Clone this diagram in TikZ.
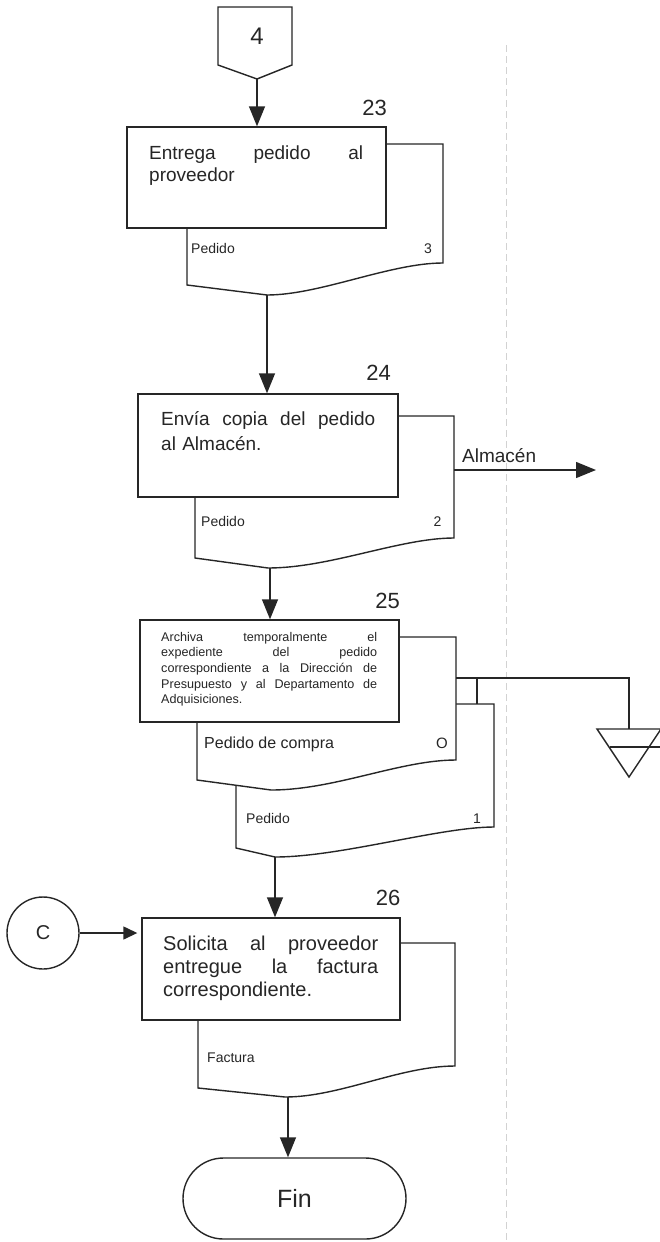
\documentclass[tikz,border=0pt]{standalone}
\usepackage{fontspec}
\setmainfont{Liberation Sans}
\usetikzlibrary{arrows.meta,shapes.misc}
\newcommand\myfs[2]{\fontsize{#1}{#2}\selectfont}
\newcommand\jl[2]{\leavevmode\hbox to #1{\spaceskip=0.28em plus 1fil\relax #2}}
\definecolor{ln}{HTML}{262626}
\begin{document}
\begin{tikzpicture}[x=1pt,y=-1pt,
  lnst/.style={draw=ln, line width=1.4pt},
  box/.style={lnst, fill=white, rectangle, inner sep=0pt},
  doc/.style={lnst, fill=white, line join=miter},
  arr/.style={lnst, -{Triangle[length=20pt,width=16pt]}},
  txt/.style={inner sep=0pt, align=left, text=ln, anchor=base west},
  lbl/.style={inner sep=0pt, font=\myfs{14}{17}, text=ln, anchor=base west},
  small/.style={inner sep=0pt, font=\myfs{14}{17}, text=ln, anchor=base},
  num/.style={inner sep=0pt, font=\myfs{22}{26}, anchor=base east, text=ln},
  sep/.style={draw=gray!35, line width=0.7pt, dash pattern=on 7pt off 4pt}]
\useasboundingbox (0,0) rectangle (659,1242);

% column separator
\draw[sep] (506,45) -- (506,1242);

% off-page connector 4
\draw[lnst, fill=white, line join=miter] (218,7) -- (292,7) -- (292,65) -- (257,79) -- (218,65) -- cycle;
\node[inner sep=0pt, font=\myfs{24}{28}, text=ln, anchor=base] (c4) at (257,44) {4};
\coordinate (c4tip) at (257,79);

% ---------- step 23
\draw[doc] (370,144) -- (443,144) -- (443,263) .. controls (390,263) and (320,295) .. (267,295) -- (187,285) -- (187,215) -- cycle;
\coordinate (m23) at (267,295);
\node[box, minimum width=259pt, minimum height=101pt] (b23) at (256.5,177.5) {};
\node[num] (n23) at (387,115) {23};
\node[txt, text width=214pt, font=\myfs{19}{22}] (t23) at (149,159) {\jl{214pt}{Entrega pedido al}\\proveedor};
\node[lbl] (p23) at (191,253) {Pedido};
\node[small] (k23) at (428,253) {3};
\draw[arr] (c4tip) -- (c4tip |- b23.north);

% ---------- step 24
\draw[doc] (380,416) -- (454,416) -- (454,538) .. controls (400,538) and (330,568) .. (268,568) -- (195,558) -- (195,480) -- cycle;
\coordinate (m24) at (270,568);
\node[box, minimum width=260pt, minimum height=103pt] (b24) at (268,445.5) {};
\node[num] (n24) at (391,380) {24};
\node[txt, text width=214pt, font=\myfs{19}{25.5}] (t24) at (161,425) {\jl{214pt}{Envía copia del pedido}\\al Almacén.};
\node[lbl] (p24) at (201,526) {Pedido};
\node[small] (k24) at (437.5,526) {2};
\draw[arr] (m23) -- (m23 |- b24.north);
\coordinate (d24r) at (454,470);
\coordinate (alm) at (596,470);
\draw[arr] (d24r) -- (alm);
\node[inner sep=0pt, font=\myfs{19}{22}, text=ln, anchor=base west] (lalm) at (462,462) {Almacén};

% ---------- step 25
\draw[doc] (300,704) -- (494,704) -- (494,827) .. controls (440,827) and (340,857) .. (275,857) -- (236,848) -- (236,740) -- cycle;
\coordinate (m25) at (275,857);
\draw[doc] (380,637) -- (456,637) -- (456,760) .. controls (400,760) and (335,790) .. (271,790) -- (197,780) -- (197,710) -- cycle;
\node[box, minimum width=259pt, minimum height=102pt] (b25) at (269.5,671) {};
\node[num] (n25) at (400,608) {25};
\node[txt, text width=216pt, font=\myfs{12.6}{15.7}] (t25) at (161,641) {\jl{216pt}{Archiva temporalmente el}\\\jl{216pt}{expediente del pedido}\\\jl{216pt}{correspondiente a la Dirección de}\\\jl{216pt}{Presupuesto y al Departamento de}\\Adquisiciones.};
\node[lbl, font=\myfs{16}{19}] (p25a) at (204,748) {Pedido de compra};
\node[small, font=\myfs{15}{18}] (k25a) at (442,748) {O};
\node[lbl] (p25b) at (246,823) {Pedido};
\node[small] (k25b) at (477,823) {1};
\draw[arr] (m24) -- (m24 |- b25.north);
% archive
\coordinate (d25r) at (456,678);
\coordinate (arch) at (629,729);
\draw[lnst] (d25r) -| (arch);
\draw[lnst] (477,678) -- (477,704);
\draw[lnst, line join=miter] (597,729) -- (661,729) -- (629,777) -- cycle;
\draw[lnst] (610,747) -- (661,747);

% ---------- step 26
\draw[doc] (380,943) -- (455,943) -- (455,1066) .. controls (400,1066) and (340,1097) .. (285,1097) -- (198,1088) -- (198,1000) -- cycle;
\coordinate (m26) at (288,1097);
\node[box, minimum width=258pt, minimum height=102pt] (b26) at (271,969) {};
\node[num] (n26) at (400.5,905) {26};
\node[txt, text width=215pt, font=\myfs{20}{23}] (t26) at (163,950) {\jl{215pt}{Solicita al proveedor}\\\jl{215pt}{entregue la factura}\\correspondiente.};
\node[lbl] (p26) at (207,1062) {Factura};
\draw[arr] (m25) -- (m25 |- b26.north);

% connector C
\node[lnst, circle, minimum size=72pt, inner sep=0pt, font=\myfs{20}{24}, text=ln] (cc) at (43,933) {C};
\draw[lnst, -{Triangle[length=14pt,width=13pt]}, shorten >=4pt] (cc.east) -- (cc.east -| b26.west);

% Fin
\node[lnst, rounded rectangle, minimum width=223pt, minimum height=81pt, inner sep=0pt, font=\myfs{25}{30}, text=ln] (fin) at (294.5,1198.5) {Fin};
\draw[arr] (m26) -- (m26 |- fin.north);
\end{tikzpicture}
\end{document}
